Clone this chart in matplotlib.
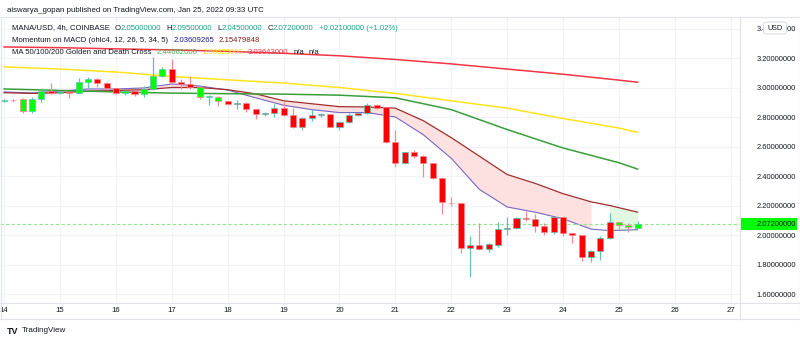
import matplotlib.pyplot as plt
from matplotlib.patches import Rectangle, FancyBboxPatch
from matplotlib.lines import Line2D
import numpy as np

W, H = 800, 343

# MANA/USD 4h candles, Jan 14 00:00 -> Jan 25 08:00
opens = [2.910, 2.918, 2.922, 2.840, 2.925, 2.976, 2.965, 2.968, 2.963, 3.037,
         3.058, 3.030, 2.997, 2.962, 2.975, 2.958, 2.990, 3.078, 3.125, 3.037,
         3.024, 3.003, 2.935, 2.937, 2.908, 2.890, 2.897, 2.854, 2.820, 2.826,
         2.861, 2.814, 2.732, 2.790, 2.815, 2.820, 2.735, 2.766, 2.814, 2.826,
         2.881, 2.865, 2.630, 2.488, 2.563, 2.536, 2.488, 2.386, 2.220, 2.214,
         1.912, 1.935, 1.905, 1.935, 2.041, 2.045, 2.115, 2.108, 2.061, 2.020,
         2.122, 2.014, 2.000, 1.851, 1.891, 1.980, 2.088, 2.068, 2.050]
highs = [2.925, 2.925, 2.929, 2.935, 2.983, 3.030, 2.975, 2.972, 3.064, 3.070,
         3.062, 3.035, 3.000, 2.980, 2.980, 3.010, 3.207, 3.140, 3.190, 3.060,
         3.080, 3.010, 2.950, 2.940, 2.910, 2.915, 2.900, 2.855, 2.835, 2.888,
         2.900, 2.860, 2.800, 2.855, 2.830, 2.822, 2.770, 2.825, 2.830, 2.895,
         2.885, 2.870, 2.710, 2.565, 2.575, 2.540, 2.490, 2.390, 2.260, 2.215,
         1.990, 2.080, 1.945, 2.088, 2.120, 2.125, 2.160, 2.140, 2.080, 2.125,
         2.125, 2.015, 2.000, 1.895, 1.990, 2.149, 2.090, 2.080, 2.095]
lows = [2.905, 2.905, 2.827, 2.830, 2.900, 2.955, 2.955, 2.930, 2.960, 3.000,
        3.003, 2.983, 2.955, 2.952, 2.945, 2.935, 2.985, 3.070, 3.030, 2.990,
        2.990, 2.920, 2.880, 2.875, 2.880, 2.855, 2.834, 2.786, 2.805, 2.800,
        2.810, 2.725, 2.712, 2.770, 2.800, 2.730, 2.710, 2.760, 2.810, 2.820,
        2.855, 2.625, 2.460, 2.480, 2.520, 2.393, 2.380, 2.142, 2.200, 1.878,
        1.715, 1.898, 1.885, 1.920, 2.000, 2.040, 2.095, 2.020, 2.000, 2.010,
        1.993, 1.945, 1.824, 1.817, 1.830, 1.975, 2.040, 2.020, 2.045]
closes = [2.915, 2.912, 2.841, 2.925, 2.976, 2.965, 2.968, 2.963, 3.037, 3.058,
          3.030, 2.997, 2.963, 2.975, 2.956, 2.990, 3.078, 3.125, 3.037, 3.024,
          3.003, 2.935, 2.937, 2.908, 2.888, 2.897, 2.854, 2.820, 2.826, 2.861,
          2.814, 2.732, 2.793, 2.815, 2.820, 2.735, 2.766, 2.814, 2.826, 2.881,
          2.863, 2.630, 2.488, 2.563, 2.536, 2.488, 2.386, 2.224, 2.214, 1.912,
          1.935, 1.905, 1.939, 2.041, 2.045, 2.115, 2.108, 2.061, 2.020, 2.122,
          2.014, 2.000, 1.851, 1.891, 1.980, 2.088, 2.068, 2.054, 2.072]
# bar colouring from the momentum indicator
bar_tint = "grgggrgrggrrrgrgggrrrgggrrrrrrrrrrrrrrrrrrrrrrrrrrrrrrrrrrrrrrrrrrggg"

# moving averages (sampled on candle index)
ma_idx = [0, 6, 12, 18, 24, 30, 36, 42, 48, 54, 60, 66, 68]
ma200 = [3.275, 3.270, 3.262, 3.255, 3.245, 3.232, 3.215, 3.190, 3.160, 3.125, 3.090, 3.050, 3.036]
ma100 = [3.140, 3.125, 3.105, 3.075, 3.052, 3.030, 3.000, 2.960, 2.910, 2.860, 2.790, 2.725, 2.696]
ma50 = [2.990, 2.980, 2.970, 2.962, 2.958, 2.955, 2.948, 2.930, 2.850, 2.715, 2.590, 2.490, 2.447]

# momentum on MACD lines
mom_idx = [0, 3, 6, 9, 12, 15, 18, 21, 24, 27, 30, 33, 36, 39, 42, 45, 48, 51,
           54, 57, 60, 63, 65, 68]
mom_fast = [2.970, 2.963, 2.976, 2.990, 2.990, 2.997, 3.024, 3.010, 2.983, 2.930,
            2.880, 2.850, 2.830, 2.830, 2.800, 2.680, 2.520, 2.310, 2.190, 2.155,
            2.110, 2.040, 2.030, 2.036]
mom_slow = [2.965, 2.960, 2.965, 2.975, 2.980, 2.985, 3.000, 3.000, 2.985, 2.957,
            2.910, 2.890, 2.870, 2.868, 2.860, 2.775, 2.660, 2.535, 2.410, 2.350,
            2.280, 2.225, 2.200, 2.155]
mom_fill = "rrrrrrrrrrrrrrrrrrrrrrgg"

last_price = 2.072
day_ticks = list(range(14, 28))
price_ticks = [1.6, 1.8, 2.0, 2.2, 2.4, 2.6, 2.8, 3.0, 3.2, 3.4]

plt.rcParams["font.family"] = ["Liberation Sans", "DejaVu Sans"]
TXT = "#131722"
UP_WICK, DN_WICK = "#5cc4b8", "#f28b95"
BODY = {"g": "#00ff00", "r": "#ff0000"}

fig = plt.figure(figsize=(W / 100, H / 100), dpi=100)
fig.patch.set_facecolor("white")

top, bot, right = 17, 303, 740
ax = fig.add_axes([0, 1 - bot / H, right / W, (bot - top) / H])
ax.set_xlim(13.927, 27.165)
ax.set_ylim(1.539, 3.478)
for s in ax.spines.values():
    s.set_visible(False)

for d in day_ticks:
    ax.axvline(d, color="#f0f3fa", lw=0.8, zorder=0)
for p in price_ticks:
    ax.axhline(p, color="#f0f3fa", lw=0.8, zorder=0)

t = 14 + np.arange(len(opens)) / 6.0
w = 0.65 / 6

# fill between momentum lines, pink/green by indicator state
mt = 14 + np.array(mom_idx) / 6.0
mf, ms = np.array(mom_fast), np.array(mom_slow)
red_mask = np.array([c == "r" for c in mom_fill])
green_mask = np.array([c == "g" for c in mom_fill])
ax.fill_between(mt, mf, ms, where=red_mask, color="#fde0e0", lw=0, zorder=1)
ax.fill_between(mt, mf, ms, where=green_mask, color="#e2f8e2", lw=0, zorder=1)
ax.plot(mt, mf, color="#7668c0", lw=0.8, zorder=2)
ax.plot(mt, ms, color="#9e2f2c", lw=0.9, zorder=2)

mx = 14 + np.array(ma_idx) / 6.0
ax.plot(mx, ma200, color="#f23645", lw=1.1, zorder=2)
ax.plot(mx, ma100, color="#ffe31a", lw=1.1, zorder=2)
ax.plot(mx, ma50, color="#3a9e3a", lw=1.1, zorder=2)

# candles
for x, o, h, l, c, tint in zip(t, opens, highs, lows, closes, bar_tint):
    wick = UP_WICK if c >= o else DN_WICK
    ax.vlines(x, l, h, color=wick, lw=0.9, zorder=3)
    lo_b = min(o, c)
    hgt = max(abs(c - o), 0.005)
    ax.add_patch(Rectangle((x - w / 2, lo_b), w, hgt, facecolor=BODY[tint],
                           edgecolor=wick, lw=0.5, zorder=4))

ax.axhline(last_price, color="#8ee88e", lw=0.8, ls=(0, (3, 2)), zorder=2)

ax.set_xticks(day_ticks)
ax.set_xticklabels([str(d) for d in day_ticks])
ax.tick_params(axis="x", length=0, pad=3, labelsize=5.6, labelcolor=TXT)
ax.yaxis.tick_right()
ax.set_yticks(price_ticks)
ax.set_yticklabels([f"{p:.8f}" for p in price_ticks])
ax.tick_params(axis="y", length=0, pad=12, labelsize=5.4, labelcolor=TXT)

# frame
fx = lambda px: px / W
fy = lambda py: 1 - py / H
frame = "#e0e3eb"
for (x0, y0, x1, y1) in [(0, top, W, top), (0, bot, W, bot), (0, 319, W, 319),
                         (right, top, right, 319), (0.5, top, 0.5, 319), (W - 0.5, top, W - 0.5, 319)]:
    fig.add_artist(Line2D([fx(x0), fx(x1)], [fy(y0), fy(y1)], color=frame, lw=0.8))

# last price tag
fig.add_artist(Rectangle((fx(741), fy(230)), 56 / W, 12 / H, facecolor="#00ff00",
                         edgecolor="none", transform=fig.transFigure))
fig.text(fx(776), fy(224), f"{last_price:.8f}", ha="center", va="center",
         fontsize=5.4, color=TXT)

# currency badge sits over the top price label
fig.add_artist(FancyBboxPatch((fx(766), fy(33)), 18 / W, 10 / H,
                              boxstyle="round,pad=0.003,rounding_size=0.006",
                              facecolor="white", edgecolor="#d1d4dc", lw=0.6,
                              transform=fig.transFigure, zorder=5))
fig.text(fx(775), fy(28), "USD", ha="center", va="center", fontsize=5.2, color=TXT, zorder=6)

fig.text(fx(7), fy(10), "aiswarya_gopan published on TradingView.com, Jan 25, 2022 09:33 UTC",
         fontsize=5.7, color=TXT, va="center")

renderer = fig.canvas.get_renderer()


def text_run(x, y, parts, size=5.6):
    for part in parts:
        if not isinstance(part, tuple):
            x += part
            continue
        s, col = part
        tx = fig.text(fx(x), fy(y), s, color=col, fontsize=size, va="center", ha="left")
        x += tx.get_window_extent(renderer=renderer).width


teal = "#1fa38f"
text_run(12, 28, [("MANA/USD, 4h, COINBASE", TXT), 5, ("O", TXT), ("2.05000000", teal), 5,
                  ("H", TXT), ("2.09500000", teal), 5, ("L", TXT), ("2.04500000", teal), 5,
                  ("C", TXT), ("2.07200000", teal), 5, ("+0.02100000 (+1.02%)", teal)])
text_run(12, 40, [("Momentum on MACD (ohlc4, 12, 26, 5, 34, 5)", TXT), 5,
                  ("2.03609265", "#1c1c9c"), 5, ("2.15479848", "#8b1a1a")])
text_run(12, 52, [("MA 50/100/200 Golden and Death Cross", TXT), 5,
                  ("2.44662000", "#4caf50"), 5, ("2.69625000", "#f5e000"), 5,
                  ("3.03643000", "#f23645"), 5, ("n/a", TXT), 4, ("n/a", TXT)])

fig.text(fx(7), fy(331), "TV", fontsize=6.5, fontweight="heavy", color=TXT, va="center")
fig.text(fx(22), fy(331), "TradingView", fontsize=5.8, color=TXT, va="center")

fig.savefig("out.png", dpi=100)
